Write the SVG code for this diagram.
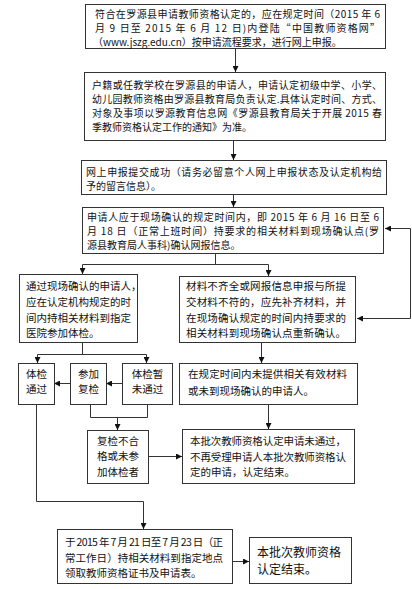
<svg xmlns="http://www.w3.org/2000/svg" width="412" height="589" viewBox="0 0 412 589">
<style>
rect{fill:#fff;stroke:#333;stroke-width:1}
text{font-family:"Noto Sans CJK SC","Noto Sans",sans-serif;font-size:10.5px;fill:#111}
.s{font-size:10px}
.c{text-anchor:middle}
.big{font-size:12px}
#connectors path,#connectors line{fill:none;stroke:#333;stroke-width:1}
.a{marker-end:url(#ah)}
</style>
<defs>
<marker id="ah" viewBox="0 0 8 8" refX="8" refY="4" markerWidth="6" markerHeight="6" markerUnits="userSpaceOnUse" orient="auto-start-reverse">
<path d="M0,0 L8,4 L0,8 Z" fill="#111"/>
</marker>
</defs>
<rect x="0" y="0" width="412" height="589" style="stroke:none"/>
<g id="connectors">
<line class="a" x1="235.5" y1="48" x2="235.5" y2="72"/>
<line class="a" x1="233.5" y1="141" x2="233.5" y2="160"/>
<line class="a" x1="233.5" y1="194" x2="233.5" y2="207"/>
<path d="M215.5,253 V264.5 M82.5,264.5 H268.5"/>
<line class="a" x1="82.5" y1="264.5" x2="82.5" y2="274"/>
<line class="a" x1="268.5" y1="264.5" x2="268.5" y2="276"/>
<path d="M385,228.5 H410.5 V318.5 H357" style="marker-start:url(#ah);marker-end:url(#ah)"/>
<line class="a" x1="261.5" y1="343" x2="261.5" y2="363"/>
<path d="M82.5,343 V354.5 M37.5,354.5 H146.5"/>
<line class="a" x1="37.5" y1="354.5" x2="37.5" y2="363"/>
<line class="a" x1="146.5" y1="354.5" x2="146.5" y2="363"/>
<line class="a" x1="122" y1="383.5" x2="106" y2="383.5"/>
<line class="a" x1="70" y1="383.5" x2="54" y2="383.5"/>
<path d="M90.5,404 V417.5 H147.5 V404"/>
<line class="a" x1="117.5" y1="417.5" x2="117.5" y2="430"/>
<line class="a" x1="148" y1="456.5" x2="182" y2="456.5"/>
<line class="a" x1="268.5" y1="404" x2="268.5" y2="429"/>
<path class="a" d="M36.5,404 V501.5 H143.5 V529"/>
<line class="a" x1="232" y1="561.5" x2="249" y2="561.5"/>
</g>
<g id="n1">
<rect x="85.5" y="4.5" width="300" height="44"/>
<text class="s" x="95" y="17.5" textLength="285" lengthAdjust="spacing">符合在罗源县申请教师资格认定的，应在规定时间（2015 年 6</text>
<text class="s" x="95" y="31.5" textLength="285" lengthAdjust="spacing">月 9 日至 2015 年 6 月 12 日)内登陆“中国教师资格网”</text>
<text class="s" x="93" y="45.5">（www.jszg.edu.cn）按申请流程要求，进行网上申报。</text>
</g>
<g id="n2">
<rect x="84.5" y="72.5" width="301" height="68"/>
<text class="s" x="92" y="89" textLength="290" lengthAdjust="spacing">户籍或任教学校在罗源县的申请人，申请认定初级中学、小学、</text>
<text class="s" x="92" y="103" textLength="290" lengthAdjust="spacing">幼儿园教师资格由罗源县教育局负责认定.具体认定时间、方式、</text>
<text class="s" x="92" y="117" textLength="290" lengthAdjust="spacing">对象及事项以罗源教育信息网《罗源县教育局关于开展 2015 春</text>
<text class="s" x="92" y="131">季教师资格认定工作的通知》为准。</text>
</g>
<g id="n3">
<rect x="81.5" y="160.5" width="305" height="34"/>
<text class="s" x="86" y="175.5" textLength="296" lengthAdjust="spacing">网上申报提交成功（请务必留意个人网上申报状态及认定机构给</text>
<text class="s" x="86" y="189.5">予的留言信息）。</text>
</g>
<g id="n4">
<rect x="82.5" y="207.5" width="301" height="46"/>
<text class="s" x="87" y="221" textLength="292" lengthAdjust="spacing">申请人应于现场确认的规定时间内，即 2015 年 6 月 16 日至 6</text>
<text class="s" x="87" y="235" textLength="292" lengthAdjust="spacing">月 18 日（正常上班时间）持要求的相关材料到现场确认点(罗</text>
<text class="s" x="87" y="249">源县教育局人事科)确认网报信息。</text>
</g>
<g id="n5">
<rect x="19.5" y="274.5" width="118" height="68"/>
<text x="26" y="290">通过现场确认的申请人，</text>
<text x="26" y="306" textLength="105" lengthAdjust="spacing">应在认定机构规定的时</text>
<text x="26" y="322" textLength="105" lengthAdjust="spacing">间内持相关材料到指定</text>
<text x="26" y="337">医院参加体检。</text>
</g>
<g id="n6">
<rect x="179.5" y="276.5" width="176" height="66"/>
<text x="186" y="290" textLength="160" lengthAdjust="spacing">材料不齐全或网报信息申报与所提</text>
<text x="186" y="306" textLength="160" lengthAdjust="spacing">交材料不符的，应先补齐材料，并</text>
<text x="186" y="322" textLength="160" lengthAdjust="spacing">在现场确认规定的时间内持要求的</text>
<text x="186" y="337" textLength="160" lengthAdjust="spacing">相关材料到现场确认点重新确认。</text>
</g>
<g id="n7">
<rect x="18.5" y="363.5" width="36" height="41"/>
<text class="c" x="36.5" y="378">体检</text>
<text class="c" x="36.5" y="393">通过</text>
</g>
<g id="n8">
<rect x="70.5" y="363.5" width="36" height="41"/>
<text class="c" x="88.5" y="378">参加</text>
<text class="c" x="88.5" y="393">复检</text>
</g>
<g id="n9">
<rect x="122.5" y="363.5" width="50" height="41"/>
<text class="c" x="147.5" y="378">体检暂</text>
<text class="c" x="147.5" y="393">未通过</text>
</g>
<g id="n10">
<rect x="179.5" y="363.5" width="178" height="41"/>
<text x="188" y="378" textLength="159" lengthAdjust="spacing">在规定时间内未提供相关有效材料</text>
<text x="188" y="395">或未到现场确认的申请人。</text>
</g>
<g id="n11">
<rect x="87.5" y="430.5" width="61" height="53"/>
<text class="c" x="118" y="445">复检不合</text>
<text class="c" x="118" y="460">格或未参</text>
<text class="c" x="118" y="476">加体检者</text>
</g>
<g id="n12">
<rect x="182.5" y="429.5" width="172" height="54"/>
<text x="190" y="445" textLength="156" lengthAdjust="spacing">本批次教师资格认定申请未通过，</text>
<text x="190" y="461" textLength="156" lengthAdjust="spacing">不再受理申请人本批次教师资格认</text>
<text x="190" y="476">定的申请，认定结束。</text>
</g>
<g id="n13">
<rect x="57.5" y="529.5" width="175" height="54"/>
<text x="65" y="546" textLength="158" lengthAdjust="spacing">于 2015 年 7 月 21 日至 7 月 23 日（正</text>
<text x="65" y="562" textLength="158" lengthAdjust="spacing">常工作日）持相关材料到指定地点</text>
<text x="65" y="577">领取教师资格证书及申请表。</text>
</g>
<g id="n14">
<rect x="249.5" y="537.5" width="102" height="46"/>
<text class="big" x="257" y="557" textLength="84" lengthAdjust="spacing">本批次教师资格</text>
<text class="big" x="257" y="574">认定结束。</text>
</g>
</svg>
